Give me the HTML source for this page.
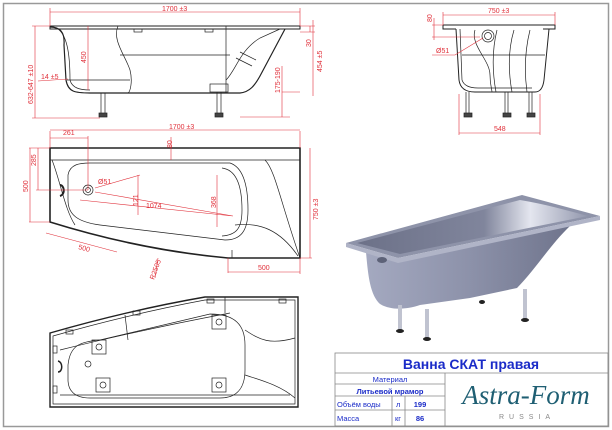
<!DOCTYPE html>
<html><head><meta charset="utf-8"><style>
html,body{margin:0;padding:0;background:#fff}
svg{display:block}
</style></head><body>
<svg width="612" height="430" viewBox="0 0 612 430" xmlns="http://www.w3.org/2000/svg" font-family="Liberation Sans, sans-serif">
<defs>
<linearGradient id="g2" x1="0" y1="0" x2="1" y2="0"><stop offset="0" stop-color="#a4a9c0"/><stop offset="0.5" stop-color="#8d92aa"/><stop offset="1" stop-color="#6f748c"/></linearGradient>
<linearGradient id="g3" x1="0" y1="0" x2="1" y2="0"><stop offset="0" stop-color="#6c7188"/><stop offset="0.55" stop-color="#80859c"/><stop offset="0.75" stop-color="#e4e6ef"/><stop offset="1" stop-color="#9297ad"/></linearGradient>
</defs>
<rect x="3.5" y="3.5" width="605" height="423" fill="none" stroke="#999" stroke-width="1.5"/>

<!-- SIDE VIEW -->
<g fill="none" stroke="#222" stroke-width="0.7">
<path d="M50 26 L300 26 L300 29 L50 29 Z" stroke-width="1"/>
<path d="M50 27 C60 27 65 32 64 45 L66 80 C68 92 75 93 90 93 L240 93 C250 92 255 85 260 76 L285 29" stroke-width="1.2"/>
<path d="M58 29 C66 35 70 50 70 80 C72 88 80 90 90 90"/>
<path d="M118 26 C112 40 125 55 130 70 C133 82 130 92 128 93"/>
<path d="M67 80 L130 80 M120 55 L230 55 M226 26 L226 93"/>
<path d="M226 80 C236 70 240 50 260 38 L280 29 M236 58 L252 66 M240 52 L256 60"/>
<rect x="210" y="84" width="18" height="8"/>
<rect x="134" y="29" width="8" height="3"/><rect x="205" y="29" width="8" height="3"/>
<path d="M101 93 L101 113 M105 93 L105 113 M217 92 L217 113 M221 92 L221 113"/>
<rect x="99" y="113" width="8" height="4" fill="#444"/><rect x="215" y="113" width="8" height="4" fill="#444"/>
</g>
<g stroke="#e0303a" stroke-width="0.6" fill="none">
<path d="M50 12 L300 12 M50 8 L50 26 M300 8 L300 26"/>
<path d="M35 26 L35 118 M32 26 L50 26 M32 118 L100 118"/>
<path d="M88 26 L88 90"/>
<path d="M38 81 L68 79"/>
<path d="M282 66 L282 117 M282 92 L300 92 M240 117 L290 117"/>
<path d="M310 26 L310 32 M300 26 L315 26 M300 32 L315 32 M313 20 L313 96"/>
</g>
<g fill="#e0303a" font-size="7">
<text x="162" y="11">1700 ±3</text>
<text transform="translate(33,104) rotate(-90)">632-647 ±10</text>
<text transform="translate(86,63) rotate(-90)">450</text>
<text x="41" y="79">14 ±5</text>
<text transform="translate(280,93) rotate(-90)">175-190</text>
<text transform="translate(311,47) rotate(-90)">30</text>
<text transform="translate(322,72) rotate(-90)">454 ±5</text>
</g>

<!-- TOP VIEW -->
<g fill="none" stroke="#222" stroke-width="0.7">
<path d="M50 148 L300 148 L300 258 L228 258 Q140 250 50 222 Z" stroke-width="1.6"/>
<path d="M50 160 L300 160" stroke-width="0.8"/>
<path d="M68 175 C70 164 80 163 90 163 L230 163 C245 168 248 190 248 210 C248 232 240 240 225 240 L100 225 C78 222 68 215 68 200 Z"/>
<path d="M222 168 C238 170 242 190 242 210 C242 230 235 235 222 236"/>
<path d="M265 160 C275 170 280 200 300 258 M232 250 L232 258 M235 225 C260 222 280 230 298 256"/>
<path d="M52 160 C60 180 65 210 75 225"/>
<circle cx="88" cy="190" r="5"/><circle cx="88" cy="190" r="2.5"/>
<path d="M60 185 C64 185 66 194 60 196" stroke-width="2"/>
</g>
<g stroke="#e0303a" stroke-width="0.6" fill="none">
<path d="M50 131 L50 148 M300 131 L300 148 M50 130 L300 130"/>
<path d="M50 138 L88 138 M88 136 L88 190"/>
<path d="M171 137 L171 160"/>
<path d="M29 148 L50 148 M29 222 L50 222 M30 148 L30 222"/>
<path d="M38 148 L38 190 M36 190 L88 190"/>
<path d="M95 188 L140 175 M95 192 L233 216 M80 200 L233 216"/>
<path d="M138 175 L138 215 M217 175 L217 227"/>
<path d="M310 148 L310 258 M300 258 L312 258"/>
<path d="M46 233 L117 252 M228 258 L228 273 M228 272 L300 272 M300 258 L300 274"/>
<path d="M158 258 L155 278"/>
</g>
<g fill="#e0303a" font-size="7">
<text x="169" y="129">1700 ±3</text>
<text x="63" y="135">261</text>
<text transform="translate(172,148) rotate(-90)">80</text>
<text transform="translate(36,166) rotate(-90)">285</text>
<text transform="translate(28,192) rotate(-90)">500</text>
<text x="98" y="184">Ø51</text>
<text x="146" y="208">1074</text>
<text transform="translate(138,206) rotate(-90)">121</text>
<text transform="translate(216,208) rotate(-90)">368</text>
<text transform="translate(318,220) rotate(-90)">750 ±3</text>
<text x="78" y="249" transform="rotate(15 78 249)">500</text>
<text x="258" y="270">500</text>
<text transform="translate(154,280) rotate(-70)">R2505</text>
</g>

<!-- BOTTOM VIEW -->
<g fill="none" stroke="#222" stroke-width="0.7">
<path d="M50 333 Q130 310 205 297 L298 297 L298 407 L50 407 Z" stroke-width="1.4"/>
<path d="M53 336 Q130 314 205 300 L295 300 L295 404 L53 404 Z"/>
<path d="M68 365 C70 345 80 342 100 340 L210 314 C235 314 245 325 245 345 L245 370 C245 390 235 398 220 398 L90 398 C74 398 68 390 68 380 Z"/>
<path d="M60 350 Q140 330 230 313 M60 395 L290 395 M125 315 L128 340 M225 297 L225 313 M245 330 C260 340 270 345 295 338 M245 375 C260 380 280 385 295 398"/>
<rect x="92" y="340" width="14" height="14"/><circle cx="99" cy="347" r="3"/>
<rect x="212" y="315" width="14" height="14"/><circle cx="219" cy="322" r="3"/>
<rect x="96" y="378" width="14" height="14"/><circle cx="103" cy="385" r="3"/>
<rect x="212" y="378" width="14" height="14"/><circle cx="219" cy="385" r="3"/>
<rect x="66" y="330" width="7" height="4"/><rect x="133" y="311" width="7" height="4"/><rect x="207" y="299" width="7" height="4"/><rect x="279" y="299" width="7" height="4"/>
<rect x="53" y="346" width="4" height="7"/><rect x="53" y="386" width="4" height="7"/>
<circle cx="88" cy="364" r="3"/>
<path d="M58 361 C63 362 63 372 58 372" stroke-width="1.5"/>
</g>

<!-- END VIEW -->
<g fill="none" stroke="#222" stroke-width="0.7">
<path d="M443 25 L555 25 L555 29 L543 29 M443 25 L443 29 L456 29" stroke-width="1"/>
<path d="M456 29 L459 80 C460 88 465 92 475 92 L535 92 C540 92 543 88 544 80 L549 29" stroke-width="1"/>
<path d="M460 29 L462 80 C464 86 470 88 478 88 L532 88"/>
<path d="M475 30 C470 45 490 60 490 75 C490 85 492 90 492 92 M497 30 C492 50 492 70 496 92 M514 30 C508 50 508 70 512 92 M530 30 C525 50 524 70 527 92 M462 55 L545 55"/>
<circle cx="488" cy="36" r="6"/><circle cx="488" cy="36" r="3.5"/>
<path d="M466 92 L466 113 M469 92 L469 113 M505 92 L505 113 M508 92 L508 113 M529 92 L529 113 M532 92 L532 113"/>
<rect x="464" y="113" width="8" height="4" fill="#444"/><rect x="503" y="113" width="8" height="4" fill="#444"/><rect x="527" y="113" width="8" height="4" fill="#444"/>
</g>
<g stroke="#e0303a" stroke-width="0.6" fill="none">
<path d="M443 15 L555 15 M443 12 L443 25 M555 12 L555 25"/>
<path d="M432 25 L443 25 M432 37 L480 37 M434 18 L434 40"/>
<path d="M432 55 L455 55 L483 38"/>
<path d="M459 94 L459 135 M540 94 L540 135 M459 133 L540 133"/>
</g>
<g fill="#e0303a" font-size="7">
<text x="488" y="13">750 ±3</text>
<text transform="translate(432,22) rotate(-90)">80</text>
<text x="436" y="53">Ø51</text>
<text x="494" y="131">548</text>
</g>

<!-- 3D RENDER -->
<g>
<path d="M366 252 C368 275 370 295 380 304 C390 310 405 310 420 305 L470 298 L517 288 C535 270 550 245 570 226 L397 259 Z" fill="url(#g2)"/>
<path d="M346 243 L522 195 L600 216 L398 258 Z" fill="#8e93a9"/>
<path d="M357 243 L520 200 C545 204 565 210 588 216 L400 254 Z" fill="url(#g3)"/>
<path d="M346 243 L398 258 L600 216 L600 220 L398 263 L346 247 Z" fill="#b0b4c7"/>
<ellipse cx="382" cy="260" rx="5" ry="3" fill="#5d6278"/>
<g fill="#c0c3d0"><rect x="398" y="305" width="4" height="26"/><rect x="425" y="309" width="4" height="29"/><rect x="523" y="289" width="4" height="30"/></g>
<g fill="#222"><ellipse cx="400" cy="331" rx="4" ry="2"/><ellipse cx="427" cy="339" rx="4" ry="2"/><ellipse cx="525" cy="320" rx="4" ry="2"/><ellipse cx="482" cy="302" rx="3" ry="2"/></g>
</g>

<!-- TITLE BLOCK -->
<g fill="none" stroke="#888" stroke-width="0.8">
<rect x="335" y="353" width="273" height="73"/>
<path d="M335 373 L608 373 M335 384 L445 384 M335 396 L445 396 M335 410 L445 410 M445 373 L445 426 M392 396 L392 426 M405 396 L405 426"/>
</g>
<text x="471" y="369" font-size="14" font-weight="bold" fill="#1a2bc8" text-anchor="middle">Ванна СКАТ правая</text>
<text x="390" y="382" font-size="7.5" fill="#1a2bc8" text-anchor="middle">Материал</text>
<text x="390" y="394" font-size="7.5" font-weight="bold" fill="#1a2bc8" text-anchor="middle">Литьевой мрамор</text>
<text x="337" y="407" font-size="7.5" fill="#1a2bc8">Объём воды</text>
<text x="396" y="407" font-size="7.5" fill="#1a2bc8">л</text>
<text x="420" y="407" font-size="7.5" font-weight="bold" fill="#1a2bc8" text-anchor="middle">199</text>
<text x="337" y="421" font-size="7.5" fill="#1a2bc8">Масса</text>
<text x="395" y="421" font-size="7.5" fill="#1a2bc8">кг</text>
<text x="420" y="421" font-size="7.5" font-weight="bold" fill="#1a2bc8" text-anchor="middle">86</text>
<text x="526" y="404" font-size="27" font-style="italic" fill="#1f5f73" text-anchor="middle" font-family="Liberation Serif, serif">Astra-Form</text>
<text x="527" y="419" font-size="7" fill="#888" text-anchor="middle" letter-spacing="5">RUSSIA</text>
</svg>
</body></html>
